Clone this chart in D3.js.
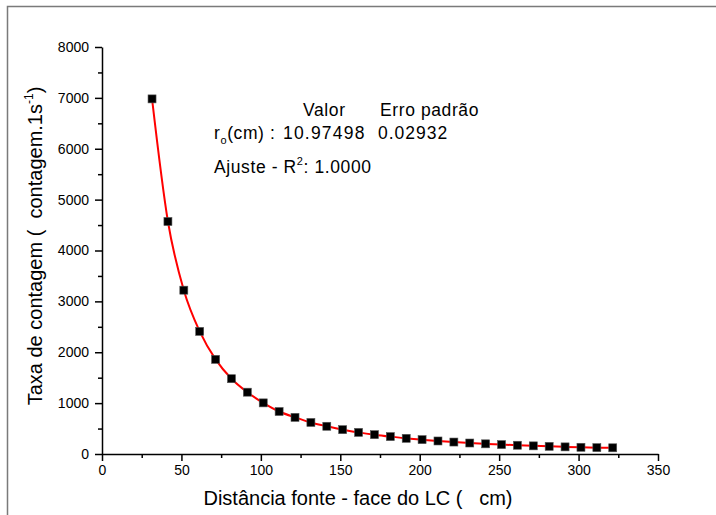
<!DOCTYPE html>
<html lang="pt">
<meta charset="utf-8">
<head>
    <script src="https://d3js.org/d3.v7.min.js"></script>
    <style>
        body { margin: 0; background: #fff; }
        text { font-family: "Liberation Sans", Arial, sans-serif; fill: #000; }
    </style>
</head>
<body>
<div id="chart"></div>
<script>
// distance source - detector face (cm)
const distancia = [31.5, 41.5, 51.5, 61.5, 71.5, 81.5, 91.5, 101.5, 111.5, 121.5,
                   131.5, 141.5, 151.5, 161.5, 171.5, 181.5, 191.5, 201.5, 211.5, 221.5,
                   231.5, 241.5, 251.5, 261.5, 271.5, 281.5, 291.5, 301.5, 311.5, 321.5];
// count rate (counts per second)
const taxa = [6980, 4570, 3220, 2410, 1860, 1480, 1215, 1005, 835, 720,
              620, 545, 478, 425, 380, 342, 308, 282, 256, 235,
              216, 200, 185, 172, 160, 150, 140, 132, 125, 122];
const xTicks = [0, 50, 100, 150, 200, 250, 300, 350];
const yTicks = [0, 1000, 2000, 3000, 4000, 5000, 6000, 7000, 8000];

const W = 716, H = 515;
const mLeft = 102, mRight = 658, mTop = 47, mBottom = 454;

const data = distancia.map((d, i) => ({ x: d, y: taxa[i] }));

const svg = d3.select("#chart").append("svg")
    .attr("width", W)
    .attr("height", H);

// outer frame
svg.append("rect")
    .attr("x", 7.5).attr("y", 6.5)
    .attr("width", 720).attr("height", 520)
    .attr("fill", "none")
    .attr("stroke", "#7a7a7a")
    .attr("stroke-width", 1.5);

const x = d3.scaleLinear().domain([0, 350]).range([mLeft, mRight]);
const y = d3.scaleLinear().domain([0, 8000]).range([mBottom, mTop]);

// minor ticks
svg.append("g")
    .attr("transform", `translate(0,${mBottom})`)
    .call(d3.axisBottom(x).tickValues(d3.range(25, 350, 50)).tickSize(4).tickFormat(""))
    .call(g => g.select(".domain").remove());
svg.append("g")
    .attr("transform", `translate(${mLeft},0)`)
    .call(d3.axisLeft(y).tickValues(d3.range(500, 8000, 1000)).tickSize(4).tickFormat(""))
    .call(g => g.select(".domain").remove());

// major axes
svg.append("g")
    .attr("transform", `translate(0,${mBottom})`)
    .call(d3.axisBottom(x).tickValues(xTicks).tickSize(7).tickSizeOuter(0).tickPadding(4)
        .tickFormat(d3.format("d")));
svg.append("g")
    .attr("transform", `translate(${mLeft},0)`)
    .call(d3.axisLeft(y).tickValues(yTicks).tickSize(7).tickSizeOuter(0).tickPadding(6)
        .tickFormat(d3.format("d")));

svg.selectAll(".tick line, .domain")
    .attr("stroke", "#000")
    .attr("stroke-width", 1.5);
svg.selectAll(".tick text")
    .style("font-family", '"Liberation Sans Narrow", "Liberation Sans", Arial, sans-serif')
    .style("font-size", "14px")
    .attr("fill", "#000");

// fitted curve
svg.append("path")
    .datum(data)
    .attr("fill", "none")
    .attr("stroke", "#ff0000")
    .attr("stroke-width", 2)
    .attr("d", d3.line()
        .x(d => x(d.x))
        .y(d => y(d.y))
        .curve(d3.curveMonotoneX));

// markers
svg.append("g").selectAll("rect")
    .data(data)
    .join("rect")
    .attr("x", d => x(d.x) - 4)
    .attr("y", d => y(d.y) - 4)
    .attr("width", 8)
    .attr("height", 8)
    .attr("fill", "#000")
    .attr("stroke", "#555")
    .attr("stroke-width", 0.6);

// axis titles
svg.append("text")
    .attr("x", 358)
    .attr("y", 505)
    .attr("text-anchor", "middle")
    .style("font-size", "20px")
    .style("white-space", "pre")
    .text("Distância fonte - face do LC (   cm)");

const yt = svg.append("text")
    .attr("transform", "translate(42,246) rotate(-90)")
    .attr("text-anchor", "middle")
    .style("font-size", "20px")
    .style("white-space", "pre");
yt.append("tspan").text("Taxa de contagem (  contagem.1s");
yt.append("tspan").attr("dy", -9).style("font-size", "12px").text("-1");
yt.append("tspan").attr("dy", 9).text(")");

// fit annotation
const note = svg.append("g").style("font-size", "17.5px").style("letter-spacing", "0.6px");
note.append("text").attr("x", 303).attr("y", 116).text("Valor");
note.append("text").attr("x", 380).attr("y", 116).text("Erro padrão");
const r0 = note.append("text").attr("x", 214).attr("y", 139).style("white-space", "pre");
r0.append("tspan").text("r");
r0.append("tspan").attr("dy", 5).style("font-size", "11px").text("o");
r0.append("tspan").attr("dy", -5).text("(cm) :");
note.append("text").attr("x", 283).attr("y", 139).style("letter-spacing", "1.2px").text("10.97498");
note.append("text").attr("x", 378).attr("y", 139).style("letter-spacing", "1px").text("0.02932");
const aj = note.append("text").attr("x", 214).attr("y", 173);
aj.append("tspan").text("Ajuste - R");
aj.append("tspan").attr("dy", -8).style("font-size", "11px").text("2");
aj.append("tspan").attr("dy", 8).text(": 1.0000");
</script>
</body>
</html>
